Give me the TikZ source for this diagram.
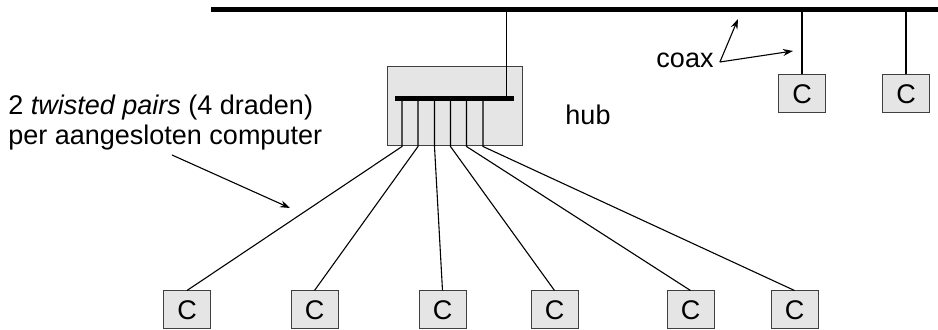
\documentclass[tikz,border=0pt]{standalone}
\usepackage{fontspec}
\setmainfont{Liberation Sans}
\usetikzlibrary{arrows.meta,positioning}
\tikzset{
  comp/.style  ={rectangle, draw=black!75, fill=gray!20, line width=0.5pt,
                 minimum width=23.5pt, minimum height=19pt, inner sep=0pt},
  hubbox/.style={rectangle, draw=black!75, fill=gray!20, line width=0.5pt,
                 minimum width=67.5pt, minimum height=39.5pt, inner sep=0pt},
  wire/.style  ={line width=0.55pt, draw=black},
  thickbus/.style={line width=2.5pt, draw=black},
  arr/.style   ={-{Stealth[length=5pt,width=3.5pt]}, line width=0.55pt},
  lbl/.style   ={font=\fontsize{13.5pt}{15pt}\selectfont, inner sep=0pt},
}

\begin{document}
\begin{tikzpicture}[x=0.5pt, y=-0.5pt]
  \useasboundingbox (0,0) rectangle (938,330);

  % coax backbone
  \coordinate (busL) at (211,10);
  \coordinate (busR) at (938,10);
  \draw[thickbus] (busL) -- (busR);

  % hub with its internal bus
  \node[hubbox] (hub) at (454.5,106.5) {};
  \node[fill=black, inner sep=0pt, minimum width=59.5pt, minimum height=2.5pt]
       (bar) at (454.5,98.5) {};
  \draw[wire] ([xshift=-4pt]bar.north east) -- ([xshift=-4pt]bar.north east |- busL);
  \node[lbl] (hublbl) at (588,115) {hub};

  % computers on the twisted pairs
  \foreach \i/\cx in {1/187, 2/314.5, 3/442.5, 4/554.5, 5/690.5, 6/794.5}
    \node[comp, lbl] (c\i) at (\cx,310) {C};

  % ports: from the internal bus out of the hub to each computer
  \foreach \i/\px in {1/402, 2/418, 3/434.5, 4/450.5, 5/466.5, 6/483} {
    \coordinate (p\i) at (\px,98.5);
    \draw[wire] (p\i) -- (p\i |- hub.south) -- (c\i.north);
  }

  % computers directly on the coax
  \node[comp, lbl] (r1) at (802,94) {C};
  \node[comp, lbl] (r2) at (906,94) {C};
  \draw[wire] (r1.north) -- (r1.north |- busL);
  \draw[wire] (r2.north) -- (r2.north |- busL);

  % coax label
  \node[lbl] (coax) at (685,60) {coax};
  \coordinate (coaxA) at (738,19);
  \coordinate (coaxB) at (793,51);
  \draw[arr] ([xshift=3pt,yshift=-1pt]coax.east) -- (coaxA);
  \draw[arr] ([xshift=3pt,yshift=-1pt]coax.east) -- (coaxB);

  % twisted pair label
  \node[lbl, align=left, anchor=north west] (tp) at (8,95)
       {2 \textit{twisted pairs} (4 draden)\\per aangesloten computer};
  \coordinate (tpA) at (172,155);
  \coordinate (tpB) at (290,208);
  \draw[arr] (tpA) -- (tpB);
\end{tikzpicture}
\end{document}
